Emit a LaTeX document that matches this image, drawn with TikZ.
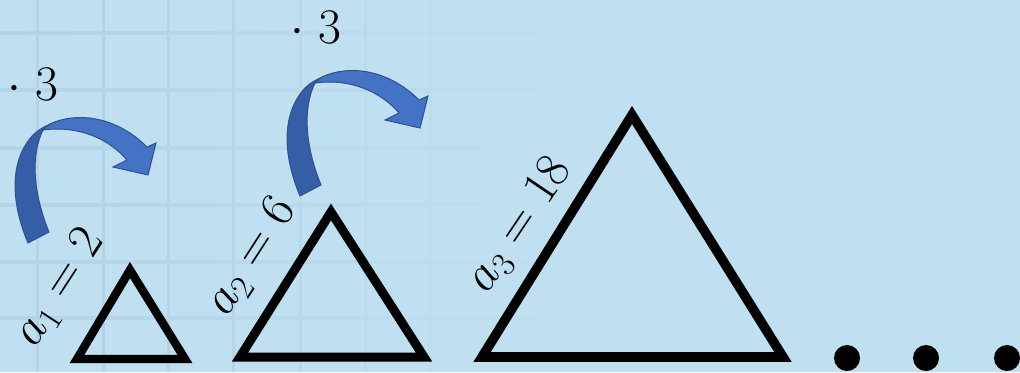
\documentclass[tikz,border=0pt]{standalone}
\usetikzlibrary{calc}
\definecolor{bgc}{RGB}{192,224,242}
\definecolor{gridc}{RGB}{180,211,231}
\definecolor{arrlight}{RGB}{68,114,196}
\definecolor{arrdark}{RGB}{54,94,166}
\definecolor{arredge}{RGB}{47,82,143}
\tikzset{
  tri/.style={draw=black,line join=miter,miter limit=10},
  lbl/.style={inner sep=0pt,font=\fontsize{25}{30}\selectfont},
  mul/.style={inner sep=0pt,font=\fontsize{24}{28}\selectfont},
  dotmark/.style={fill=black},
  pics/curvarrow/.style={code={
    \fill[arrdark,draw=arredge,line width=0.5pt]
      (28,243) .. controls (10,200) and (10,160) .. (33,135)
      .. controls (38,130) and (45,126) .. (53,123)
      -- (43,130) .. controls (33,150) and (30,185) .. (49,232) -- cycle;
    \fill[arrlight,draw=arredge,line width=0.5pt,line join=miter]
      (50,124) .. controls (75,112) and (115,115) .. (147,147)
      -- (156,143) -- (148,175) -- (113,167) -- (127,160)
      .. controls (110,140) and (80,125) .. (43,130) -- cycle;
  }}
}
\begin{document}
\begin{tikzpicture}[x=0.5pt,y=-0.5pt]
\useasboundingbox (0,0) rectangle (1020,372);
\fill[bgc] (0,0) rectangle (1020,372);
% faint grid, fading to the right
\foreach \gx/\op in {37/1,103/1,168/0.9,233/0.8,300/0.6,365/0.4,430/0.2}
  \fill[gridc,opacity=\op] (\gx-1.5,0) rectangle (\gx+1.5,372);
\foreach \gy in {33,90,148,205,262,318}
  \shade[left color=gridc,right color=bgc] (0,\gy-1.5) rectangle (620,\gy+1.5);
% triangles
\draw[tri,line width=4.2pt] (77,359) -- (130,270) -- (185,359) -- cycle;
\draw[tri,line width=4.5pt] (240,357) -- (331,212) -- (424,357) -- cycle;
\draw[tri,line width=4.8pt] (482,357) -- (632,115) -- (783,357) -- cycle;
% curved arrows
\pic at (0,0) {curvarrow};
\pic at (272,-47) {curvarrow};
% labels
\node[lbl,rotate=57] (l1) at (60,288) {$a_1=2$};
\node[lbl,rotate=57] (l2) at (252,257) {$a_2=6$};
\node[lbl,rotate=56] (l3) at (520,225) {$a_3=18$};
\node[mul] (m1) at (33,84) {$\cdot\;3$};
\node[mul] (m2) at (316,27) {$\cdot\;3$};
% dots
\fill[dotmark] (847,358) circle (13);
\fill[dotmark] (926,358) circle (13);
\fill[dotmark] (1007,358) circle (13);
\end{tikzpicture}
\end{document}
